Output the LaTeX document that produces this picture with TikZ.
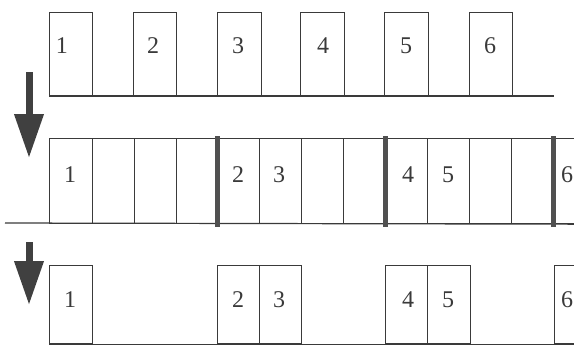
\documentclass[tikz,border=0pt]{standalone}
\usepackage{fontspec}
\setmainfont{Liberation Serif}
\usetikzlibrary{arrows.meta}
\definecolor{ink}{HTML}{3A3A3A}
\definecolor{bar}{HTML}{505050}
\definecolor{arr}{HTML}{404040}
\tikzset{
  x=1pt,y=-1pt,
  cell/.style={draw=ink,line width=1.2pt,inner sep=0pt,anchor=north west,minimum width=#1},
  r1/.style={cell=#1,minimum height=84pt},
  r2/.style={cell=#1,minimum height=85pt},
  r3/.style={cell=#1,minimum height=78pt},
  lab/.style={font=\fontsize{24}{24}\selectfont,text=ink,inner sep=0pt},
  baseline/.style={draw=ink,line width=1.2pt},
  thickbar/.style={draw=bar,line width=5pt},
  bigarrow/.style={draw=arr,line width=7pt,-{Triangle[width=28pt,length=44pt,fill=arr]}}
}
\begin{document}
\begin{tikzpicture}
\useasboundingbox (0,0) rectangle (574,346);
% ---- row 1
\node[r1=43pt] (a1) at (49,12) {};
\node[r1=43pt] (a2) at (133,12) {};
\node[r1=44pt] (a3) at (217,12) {};
\node[r1=44pt] (a4) at (300,12) {};
\node[r1=44pt] (a5) at (384,12) {};
\node[r1=43pt] (a6) at (469,12) {};
\coordinate (b1s) at (49,96);
\coordinate (b1e) at (554,96);
\draw[baseline] (b1s) -- (b1e);
\node[lab] (la1) at (62,46) {1};
\node[lab] (la2) at (153,46) {2};
\node[lab] (la3) at (238,46) {3};
\node[lab] (la4) at (323,46) {4};
\node[lab] (la5) at (406,46) {5};
\node[lab] (la6) at (490,46) {6};
% ---- arrow 1
\coordinate (ar1s) at (29,72);
\coordinate (ar1e) at (29,158);
\draw[bigarrow] (ar1s) -- (ar1e);
% ---- row 2
\node[r2=43pt] (c1) at (49,138) {};
\node[r2=42pt] (c2) at (92,138) {};
\node[r2=42pt] (c3) at (134,138) {};
\node[r2=41pt] (c4) at (176,138) {};
\node[r2=42pt] (c5) at (217,138) {};
\node[r2=42pt] (c6) at (259,138) {};
\node[r2=42pt] (c7) at (301,138) {};
\node[r2=42pt] (c8) at (343,138) {};
\node[r2=42pt] (c9) at (385,138) {};
\node[r2=42pt] (c10) at (427,138) {};
\node[r2=42pt] (c11) at (469,138) {};
\node[r2=42pt] (c12) at (511,138) {};
\node[r2=40pt] (c13) at (553,138) {};
\coordinate (b2s) at (5,223);
\draw[baseline] (b2s) -- (c13.south east);
\draw[thickbar] ([yshift=2pt]c5.north west) -- ([yshift=-3pt]c5.south west);
\draw[thickbar] ([yshift=2pt]c9.north west) -- ([yshift=-3pt]c9.south west);
\draw[thickbar] ([yshift=2pt]c13.north west) -- ([yshift=-3pt]c13.south west);
\node[lab] (lc1) at (70,175) {1};
\node[lab] (lc2) at (238,175) {2};
\node[lab] (lc3) at (279,175) {3};
\node[lab] (lc4) at (408,175) {4};
\node[lab] (lc5) at (448,175) {5};
\node[lab] (lc6) at (567,175) {6};
% ---- arrow 2
\coordinate (ar2s) at (29,242);
\coordinate (ar2e) at (29,305);
\draw[bigarrow] (ar2s) -- (ar2e);
% ---- row 3
\node[r3=43pt] (d1) at (49,265) {};
\node[r3=42pt] (d2) at (217,265) {};
\node[r3=42pt] (d3) at (259,265) {};
\node[r3=42pt] (d4) at (385,265) {};
\node[r3=43pt] (d5) at (427,265) {};
\node[r3=40pt] (d6) at (554,265) {};
\draw[baseline] (d1.south west) -- (d6.south east);
\node[lab] (ld1) at (70,300) {1};
\node[lab] (ld2) at (238,300) {2};
\node[lab] (ld3) at (279,300) {3};
\node[lab] (ld4) at (408,300) {4};
\node[lab] (ld5) at (448,300) {5};
\node[lab] (ld6) at (567,300) {6};
\end{tikzpicture}
\end{document}
